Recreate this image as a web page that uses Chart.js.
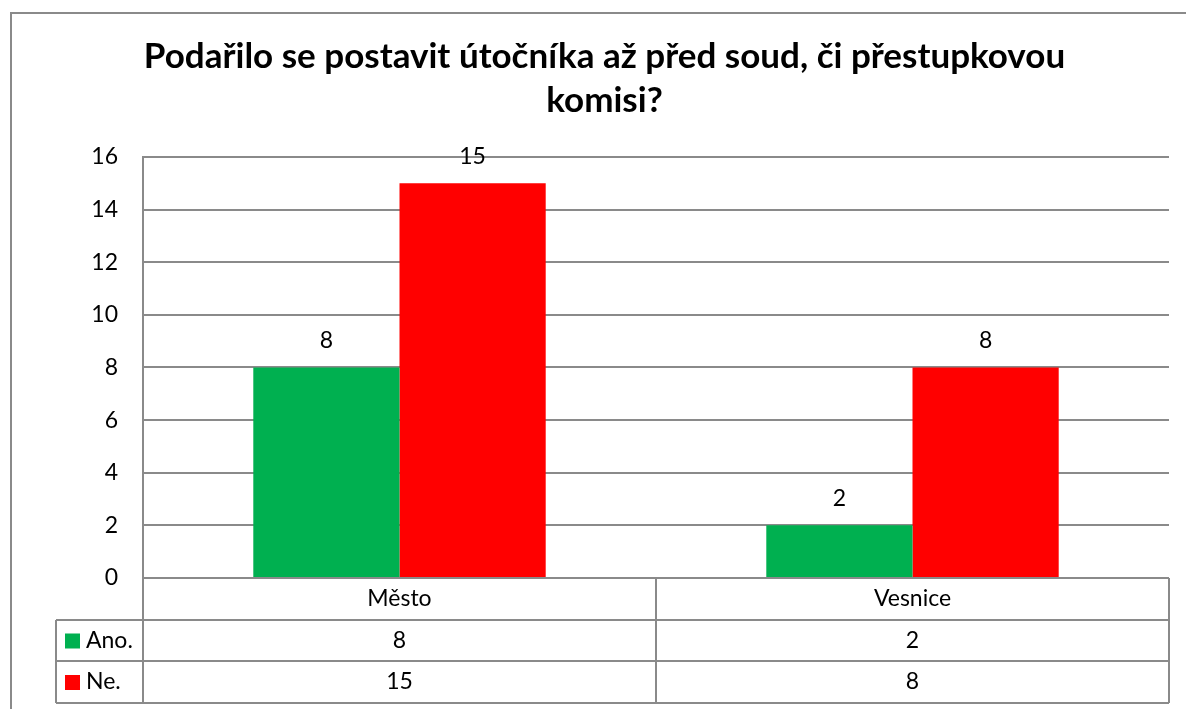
<!DOCTYPE html>
<html>
<head>
<meta charset="utf-8">
<script src="https://cdn.jsdelivr.net/npm/chart.js@4.4.0/dist/chart.umd.min.js"></script>
<style>
  html, body { margin: 0; padding: 0; background: #fff; }
  #wrap { width: 1186px; height: 709px; position: relative; }
</style>
</head>
<body>
<div id="wrap"><canvas id="chart_1"></canvas></div>
<script>
const categories = ["Město", "Vesnice"];
const seriesNames = ["Ano.", "Ne."];
const anoValues = [8, 2];
const neValues = [15, 8];
const seriesColors = ["#00B050", "#FF0000"];
const yMin = 0, yMax = 16, yStep = 2;

const FONT = "Lato, 'Open Sans', sans-serif";
const LINE = "#8a8a8a";
const TXT = 23;

// outer frame of the chart object (cropped on right and bottom)
const framePlugin = {
  id: "frame",
  beforeDraw(chart) {
    const c = chart.ctx;
    c.save();
    c.fillStyle = "#fff";
    c.fillRect(0, 0, chart.width, chart.height);
    c.strokeStyle = LINE;
    c.lineWidth = 2;
    c.beginPath();
    c.moveTo(11, chart.height);
    c.lineTo(11, 13);
    c.lineTo(chart.width, 13);
    c.stroke();
    c.restore();
  }
};

// value labels above bars
const valueLabels = {
  id: "valueLabels",
  afterDatasetsDraw(chart) {
    const c = chart.ctx;
    c.save();
    c.font = TXT + "px " + FONT;
    c.fillStyle = "#000";
    c.textAlign = "center";
    c.textBaseline = "middle";
    chart.data.datasets.forEach((ds, i) => {
      chart.getDatasetMeta(i).data.forEach((bar, j) => {
        c.fillText(String(ds.data[j]), bar.x, bar.y - 27);
      });
    });
    c.restore();
  }
};

// data table under the plot, Excel style
const dataTable = {
  id: "dataTable",
  afterDraw(chart) {
    const c = chart.ctx;
    const area = chart.chartArea;
    const xs = chart.scales.x;
    const n = categories.length;
    const colW = (area.right - area.left) / n;
    const tableLeft = 56;
    const rows = [area.bottom, area.bottom + 42, area.bottom + 83, area.bottom + 125];

    c.save();
    c.strokeStyle = LINE;
    c.lineWidth = 2;
    c.beginPath();
    // header row (categories)
    c.moveTo(area.left, rows[0]); c.lineTo(area.right, rows[0]);
    for (let i = 0; i <= n; i++) {
      const x = area.left + i * colW;
      c.moveTo(x, rows[0]); c.lineTo(x, rows[3]);
    }
    // series rows
    for (let r = 1; r <= 3; r++) {
      c.moveTo(tableLeft, rows[r]); c.lineTo(area.right, rows[r]);
    }
    c.moveTo(tableLeft, rows[1]); c.lineTo(tableLeft, rows[3]);
    c.stroke();

    c.font = TXT + "px " + FONT;
    c.fillStyle = "#000";
    c.textBaseline = "middle";
    c.textAlign = "center";
    categories.forEach((cat, i) => {
      c.fillText(cat, xs.getPixelForValue(i), (rows[0] + rows[1]) / 2);
    });
    chart.data.datasets.forEach((ds, s) => {
      const cy = (rows[s + 1] + rows[s + 2]) / 2;
      c.textAlign = "center";
      c.fillStyle = "#000";
      ds.data.forEach((v, i) => {
        c.fillText(String(v), xs.getPixelForValue(i), cy);
      });
      c.fillStyle = ds.backgroundColor;
      c.fillRect(65, cy - 7, 15, 15);
      c.fillStyle = "#000";
      c.textAlign = "left";
      c.fillText(ds.label, 86, cy);
    });
    c.restore();
  }
};

new Chart(document.getElementById("chart_1").getContext("2d"), {
  type: "bar",
  data: {
    labels: categories,
    datasets: [
      { label: seriesNames[0], data: anoValues, backgroundColor: seriesColors[0] },
      { label: seriesNames[1], data: neValues, backgroundColor: seriesColors[1] }
    ]
  },
  options: {
    responsive: true,
    maintainAspectRatio: false,
    animation: false,
    layout: {
      padding: { top: 35, left: 40, right: 17, bottom: 131 }
    },
    plugins: {
      legend: { display: false },
      tooltip: { enabled: false },
      title: {
        display: true,
        text: ["Podařilo se postavit útočníka až před soud, či přestupkovou", "komisi?"],
        color: "#000",
        font: { family: FONT, size: 35, weight: "bold", lineHeight: 1.257 },
        padding: { top: 0, bottom: 34 }
      }
    },
    datasets: {
      bar: { categoryPercentage: 0.57, barPercentage: 1.0 }
    },
    scales: {
      x: {
        display: false
      },
      y: {
        min: yMin,
        max: yMax,
        afterFit(scale) { scale.width = 103; },
        border: { display: true, color: LINE, width: 2 },
        grid: { color: LINE, lineWidth: 2, drawTicks: false },
        ticks: {
          stepSize: yStep,
          padding: 25,
          color: "#000",
          font: { family: FONT, size: TXT }
        }
      }
    }
  },
  plugins: [framePlugin, valueLabels, dataTable]
});
</script>
</body>
</html>
